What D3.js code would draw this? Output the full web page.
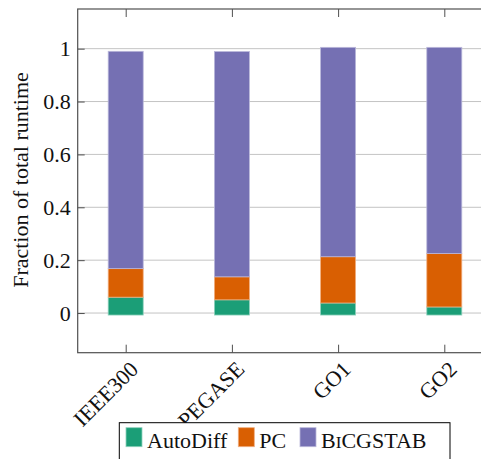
<!DOCTYPE html>
<html><head><meta charset="utf-8">
<script src="https://cdn.jsdelivr.net/npm/d3@7"></script>
</head><body style="margin:0;background:#fff">
<svg id="c" width="481" height="459"></svg>
<script>
const categories = ["IEEE300", "PEGASE", "GO1", "GO2"];
const series = ["AutoDiff", "PC", "BiCGSTAB"];
const autoDiff = [0.060, 0.050, 0.038, 0.023];
const pc = [0.108, 0.087, 0.175, 0.202];
const bicgstab = [0.822, 0.852, 0.792, 0.780];
const yTicks = [0, 0.2, 0.4, 0.6, 0.8, 1];
const colors = ["#1b9e77", "#d95f02", "#7570b3"];
const lighter = ["#8fd1bd", "#f0ae80", "#bab7da"];

const FONT = "'Liberation Serif'";
const fs = 22;
function txt(sel) {
  return sel.style("font-family", FONT).style("font-size", fs + "px").style("fill", "#111");
}
const svg = d3.select("#c");
const L = 77.7, T = 9, R = 492, B = 352.7;
const x = d3.scalePoint().domain(categories).range([125.7, 444.3]);
const y = d3.scaleLinear().domain([-0.15, 1.15]).range([B, T]);

svg.append("g").selectAll("line").data(yTicks).join("line")
  .attr("x1", L).attr("x2", R).attr("y1", d => y(d)).attr("y2", d => y(d))
  .attr("stroke", "#c4c4c4").attr("stroke-width", 1);

const rows = categories.map((c, i) => ({cat: c, AutoDiff: autoDiff[i], PC: pc[i], BiCGSTAB: bicgstab[i]}));
const stack = d3.stack().keys(series)(rows);
const bw = 35;
stack.forEach((s, si) => {
  svg.append("g").selectAll("rect").data(s).join("rect")
    .attr("x", d => x(d.data.cat) - bw / 2)
    .attr("width", bw)
    .attr("y", d => y(d[1]))
    .attr("height", d => y(d[0]) - y(d[1]) + (si === 0 ? 2 : 0))
    .attr("fill", colors[si])
    .attr("stroke", lighter[si]).attr("stroke-width", 0.8);
});

const ax = svg.append("g");
ax.append("rect").attr("x", L).attr("y", T).attr("width", R - L).attr("height", B - T)
  .attr("fill", "none").attr("stroke", "#505050").attr("stroke-width", 1.2);

const yAxis = d3.axisRight(y).tickValues(yTicks).tickSize(7).tickFormat("");
ax.append("g").attr("transform", `translate(${L},0)`).call(yAxis)
  .call(g => { g.select(".domain").remove(); g.selectAll("line").attr("stroke", "#505050"); });
txt(svg.append("g").selectAll("text").data(yTicks).join("text"))
  .attr("x", L - 7).attr("y", d => y(d)).attr("dy", "0.34em")
  .attr("text-anchor", "end")
  .text(d => d === 0 ? "0" : d === 1 ? "1" : d3.format(".1f")(d));

const xb = d3.axisTop(x).tickSize(8).tickFormat("");
ax.append("g").attr("transform", `translate(0,${B})`).call(xb)
  .call(g => { g.select(".domain").remove(); g.selectAll("line").attr("stroke", "#505050"); });
const xt = d3.axisBottom(x).tickSize(8).tickFormat("");
ax.append("g").attr("transform", `translate(0,${T})`).call(xt)
  .call(g => { g.select(".domain").remove(); g.selectAll("line").attr("stroke", "#505050"); });

txt(svg.append("g").selectAll("text").data(categories).join("text"))
  .attr("transform", d => `translate(${x(d) + 3},${B + 7}) rotate(-45)`)
  .attr("text-anchor", "end").attr("dy", "0.7em")
  .text(d => d);

txt(svg.append("text"))
  .attr("transform", `translate(28,180) rotate(-90)`)
  .attr("text-anchor", "middle")
  .text("Fraction of total runtime");

const lg = svg.append("g");
lg.append("rect").attr("x", 119.3).attr("y", 422.7).attr("width", 330.7).attr("height", 50)
  .attr("fill", "#fff").attr("stroke", "#000").attr("stroke-width", 1);
const legX = [126, 238.3, 300];
series.forEach((s, i) => {
  lg.append("rect").attr("x", legX[i]).attr("y", 427.7).attr("width", 16).attr("height", 19)
    .attr("fill", colors[i]).attr("stroke", lighter[i]).attr("stroke-width", 0.8);
  const t = txt(lg.append("text")).attr("x", legX[i] + 21).attr("y", 448);
  if (s === "BiCGSTAB") {
    t.append("tspan").text("B");
    t.append("tspan").style("font-size", (fs * 0.78) + "px").text("I");
    t.append("tspan").text("CGSTAB");
  } else t.text(s);
});
</script>
</body></html>
